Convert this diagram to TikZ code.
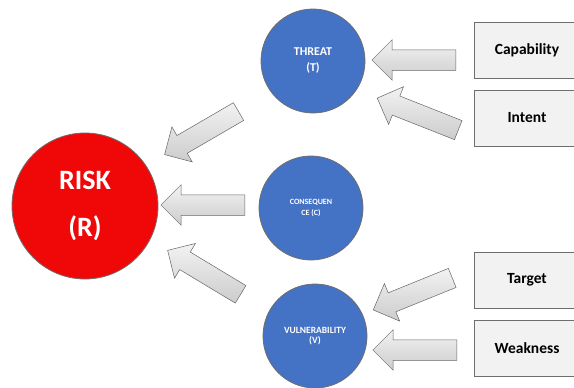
\documentclass[tikz,border=0pt]{standalone}
\usepackage{fontspec}
\setmainfont{Carlito}
\usetikzlibrary{shapes.arrows, calc, positioning}

\definecolor{riskred}{RGB}{240,8,8}
\definecolor{factorblue}{RGB}{68,114,196}
\definecolor{boxgray}{RGB}{242,242,242}
\definecolor{edgegray}{RGB}{110,110,110}

\tikzset{
  riskball/.style={circle, fill=riskred, draw=edgegray, line width=0.8pt,
    minimum size=146pt, inner sep=0pt, text=white, align=center,
    font=\bfseries\fontsize{28}{47}\selectfont},
  factor/.style={circle, fill=factorblue, draw=edgegray, line width=0.8pt,
    minimum size=104pt, inner sep=0pt, text=white, align=center},
  driver/.style={rectangle, fill=boxgray, draw=edgegray, line width=0.6pt,
    minimum width=106pt, minimum height=56pt,
    font=\bfseries\fontsize{15.5}{18}\selectfont},
  blockarrow/.style={single arrow, single arrow head extend=10pt,
    inner xsep=0pt, inner ysep=10pt, draw=gray!80!black, line width=0.5pt,
    top color=gray!10, bottom color=gray!40}
}
% block arrow from tail to tip
\newcommand{\blockarrow}[2]{%
  \path let \p1=(#1), \p2=(#2), \n1={atan2(\y2-\y1,\x2-\x1)},
    \n2={veclen(\x2-\x1,\y2-\y1)} in
    node[blockarrow, minimum height=\n2, rotate=\n1] at ($(#1)!0.5!(#2)$) {};}

\begin{document}
\begin{tikzpicture}[x=1pt, y=-1pt]
  \useasboundingbox (0,0) rectangle (574,388);

  % risk and its factors
  \node[riskball] (risk) at (85,206) {RISK\\(R)};
  \node[factor, font=\bfseries\fontsize{12}{15}\selectfont] (threat) at (313,61) {THREAT\\[1pt](T)};
  \node[factor, font=\bfseries\fontsize{8}{11}\selectfont] (conseq) at (311,208) {CONSEQUEN\\CE (C)};
  \node[factor, font=\bfseries\fontsize{9.5}{10}\selectfont] (vuln) at (315,336) {VULNERABILITY\\(V)};

  % drivers
  \node[driver] (capab) at (527,50) {Capability};
  \node[driver] (intent) at (527,118) {Intent};
  \node[driver] (target) at (527,280) {Target};
  \node[driver] (weak) at (527,348) {Weakness};

  % arrow ends
  \coordinate (capT) at (461,60);   \coordinate (capH) at (377,60);
  \coordinate (intT) at (463,132);  \coordinate (intH) at (382,100);
  \coordinate (thrT) at (243,109);  \coordinate (thrH) at (169,152);
  \coordinate (conT) at (250,205);  \coordinate (conH) at (166,205);
  \coordinate (vulT) at (245,297);  \coordinate (vulH) at (172,253);
  \coordinate (tarT) at (457,276);  \coordinate (tarH) at (378,308);
  \coordinate (weaT) at (462,350);  \coordinate (weaH) at (378,350);

  \blockarrow{capT}{capH}
  \blockarrow{intT}{intH}
  \blockarrow{thrT}{thrH}
  \blockarrow{conT}{conH}
  \blockarrow{vulT}{vulH}
  \blockarrow{tarT}{tarH}
  \blockarrow{weaT}{weaH}
\end{tikzpicture}
\end{document}
